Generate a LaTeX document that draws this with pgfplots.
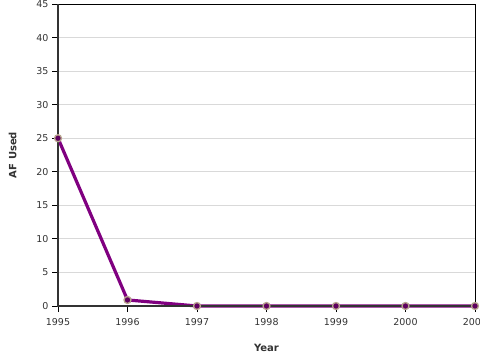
\documentclass[border=0pt]{standalone}
\usepackage{pgfplots}
\pgfplotsset{compat=1.18}
\usepackage{fontspec}
\setmainfont{DejaVu Sans}
\definecolor{linepurple}{HTML}{800080}
\definecolor{markedge}{HTML}{B8A48E}
\definecolor{gridgray}{HTML}{D9D9D9}
\definecolor{axisdark}{HTML}{333333}
\begin{document}
\begin{tikzpicture}[x=1pt,y=1pt]
\begin{axis}[
  at={(58pt,54pt)}, anchor=south west,
  scale only axis, width=417pt, height=302pt,
  xmin=1995, xmax=2001, ymin=0, ymax=45,
  xtick={1995,1996,1997,1998,1999,2000,2001},
  ytick={0,5,10,15,20,25,30,35,40,45},
  xticklabel style={/pgf/number format/1000 sep={}, yshift=-2.5pt},
  /pgf/number format/assume math mode=true,
  tick label style={font=\fontsize{9.5}{11}\selectfont, text=axisdark},
  ymajorgrids, grid style={gridgray, line width=0.8pt},
  tick align=outside, tick pos=left,
  major tick length=6pt,
  tick style={black, line width=0.8pt},
  axis line style={black, line width=0.8pt},
  xlabel={\textbf{Year}}, ylabel={\textbf{AF Used}},
  label style={font=\fontsize{10}{12}\selectfont, text=axisdark},
  xlabel style={at={(axis description cs:0.5,0)}, anchor=north, yshift=-35pt},
  ylabel style={at={(axis description cs:0,0.5)}, anchor=south, yshift=38pt},
  clip=false,
]
\addplot[linepurple, line width=3.2pt, mark=*, mark size=3.5pt,
  mark options={fill=linepurple!75!black, draw=markedge, line width=1.3pt}]
  coordinates {(1995,25) (1996,0.9) (1997,0) (1998,0) (1999,0) (2000,0) (2001,0)};
\draw[axisdark, line width=2pt] (rel axis cs:0,1) -- (rel axis cs:0,0) -- (rel axis cs:1,0);
\end{axis}
\pgfresetboundingbox
\path[use as bounding box] (0,0) rectangle (480,360);
\end{tikzpicture}
\end{document}
